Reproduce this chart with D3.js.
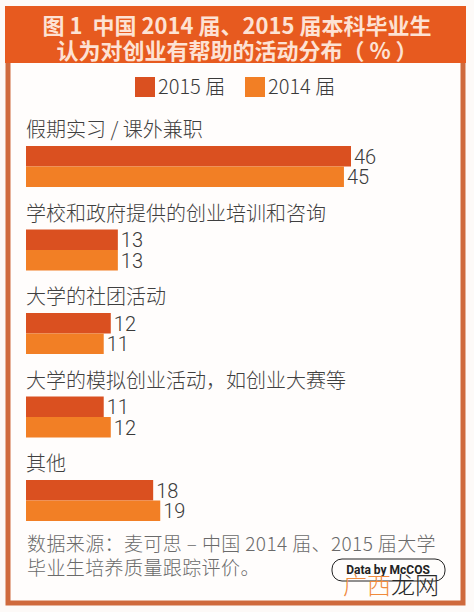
<!DOCTYPE html>
<html>
<head>
<meta charset="utf-8">
<script src="https://cdn.jsdelivr.net/npm/d3@7"></script>
<style>
  html, body { margin: 0; padding: 0; background: #fdfaf8; }
  svg { display: block; font-family: "Noto Sans CJK SC", "Noto Sans", sans-serif; }
  svg text { white-space: pre; }
</style>
</head>
<body>
<div id="chart"></div>
<script>
// ---- datos ----
const categories = [
  "假期实习 / 课外兼职",
  "学校和政府提供的创业培训和咨询",
  "大学的社团活动",
  "大学的模拟创业活动，如创业大赛等",
  "其他"
];
const series = ["2015 届", "2014 届"];
const values2015 = [46, 13, 12, 11, 18];
const values2014 = [45, 13, 11, 12, 19];
const titleLines = ["图 1  中国 2014 届、2015 届本科毕业生", "认为对创业有帮助的活动分布（ % ）"];
const sourceLines = ["数据来源：麦可思 – 中国 2014 届、2015 届大学", "毕业生培养质量跟踪评价。"];

const W = 474, H = 612;
const COLORS = { "2015 届": "#da5020", "2014 届": "#f27f25" };
const NUM_FONT = "Roboto, 'Liberation Sans', sans-serif";

const svg = d3.select("#chart").append("svg")
  .attr("width", W).attr("height", H)
  .attr("viewBox", `0 0 ${W} ${H}`);

// marco
svg.append("rect")
  .attr("x", 8).attr("y", 9).attr("width", 455).attr("height", 594)
  .attr("fill", "#fffdfc")
  .attr("stroke", "#cf6a3d").attr("stroke-width", 5);

// cabecera
svg.append("rect")
  .attr("x", 5).attr("y", 6).attr("width", 461).attr("height", 57)
  .attr("fill", "#e75a1f");

svg.append("g").selectAll("text")
  .data(titleLines)
  .join("text")
  .attr("x", 237)
  .attr("y", (d, i) => 34 + i * 25)
  .attr("text-anchor", "middle")
  .attr("font-size", 22)
  .attr("font-weight", "bold")
  .attr("fill", "#fde2d4")
  .text(d => d);

// leyenda
const legend = svg.append("g").selectAll("g")
  .data(series)
  .join("g")
  .attr("transform", (d, i) => `translate(${135 + i * 110},77)`);
legend.append("rect")
  .attr("width", 20).attr("height", 20)
  .attr("fill", d => COLORS[d]);
legend.append("text")
  .attr("x", 23).attr("y", 17)
  .attr("font-size", 20)
  .attr("font-weight", 300)
  .attr("fill", "#3a3a3a")
  .text(d => d);

// escalas
const x = d3.scaleLinear().domain([0, 46]).range([26, 351]);
const y0 = d3.scaleBand().domain(categories).range([146, 146 + 5 * 83.5]);
const y1 = d3.scaleBand().domain(series).range([0, 41]);

const rows = categories.map((c, i) => ({
  cat: c,
  vals: [
    { s: series[0], v: values2015[i] },
    { s: series[1], v: values2014[i] }
  ]
}));

const group = svg.append("g").selectAll("g")
  .data(rows)
  .join("g")
  .attr("transform", d => `translate(0,${y0(d.cat)})`);

group.append("text")
  .attr("x", 26).attr("y", -9)
  .attr("font-size", 20)
  .attr("font-weight", 300)
  .attr("fill", "#3f3f3f")
  .text(d => d.cat);

group.selectAll("rect")
  .data(d => d.vals)
  .join("rect")
  .attr("x", x(0))
  .attr("y", d => y1(d.s))
  .attr("width", d => x(d.v) - x(0))
  .attr("height", y1.bandwidth())
  .attr("fill", d => COLORS[d.s]);

group.selectAll("text.val")
  .data(d => d.vals)
  .join("text")
  .attr("class", "val")
  .attr("x", d => x(d.v) + 3)
  .attr("y", d => y1(d.s) + y1.bandwidth() / 2 + 7.5)
  .attr("font-family", NUM_FONT)
  .attr("font-weight", 300)
  .attr("font-size", 20)
  .attr("fill", "#3a3a3a")
  .text(d => d.v);

// fuente
svg.append("g").selectAll("text")
  .data(sourceLines)
  .join("text")
  .attr("x", 27)
  .attr("y", (d, i) => 551 + i * 24)
  .attr("font-size", 19)
  .attr("font-weight", 300)
  .attr("letter-spacing", 0.4)
  .attr("fill", "#6a6a6a")
  .text(d => d);

// sello
svg.append("rect")
  .attr("x", 332).attr("y", 559).attr("width", 113).attr("height", 22)
  .attr("rx", 10)
  .attr("fill", "none").attr("stroke", "#222").attr("stroke-width", 1);
svg.append("text")
  .attr("x", 388).attr("y", 574)
  .attr("text-anchor", "middle")
  .attr("font-family", NUM_FONT)
  .attr("font-size", 12).attr("font-weight", "bold")
  .attr("fill", "#222")
  .text("Data by McCOS");
const wm = svg.append("text")
  .attr("x", 343).attr("y", 594)
  .attr("font-size", 24)
  .attr("font-weight", 300);
wm.append("tspan").attr("fill", "#f08a3c").text("广西");
wm.append("tspan").attr("fill", "#2a2a2a").text("龙网");
</script>
</body>
</html>
